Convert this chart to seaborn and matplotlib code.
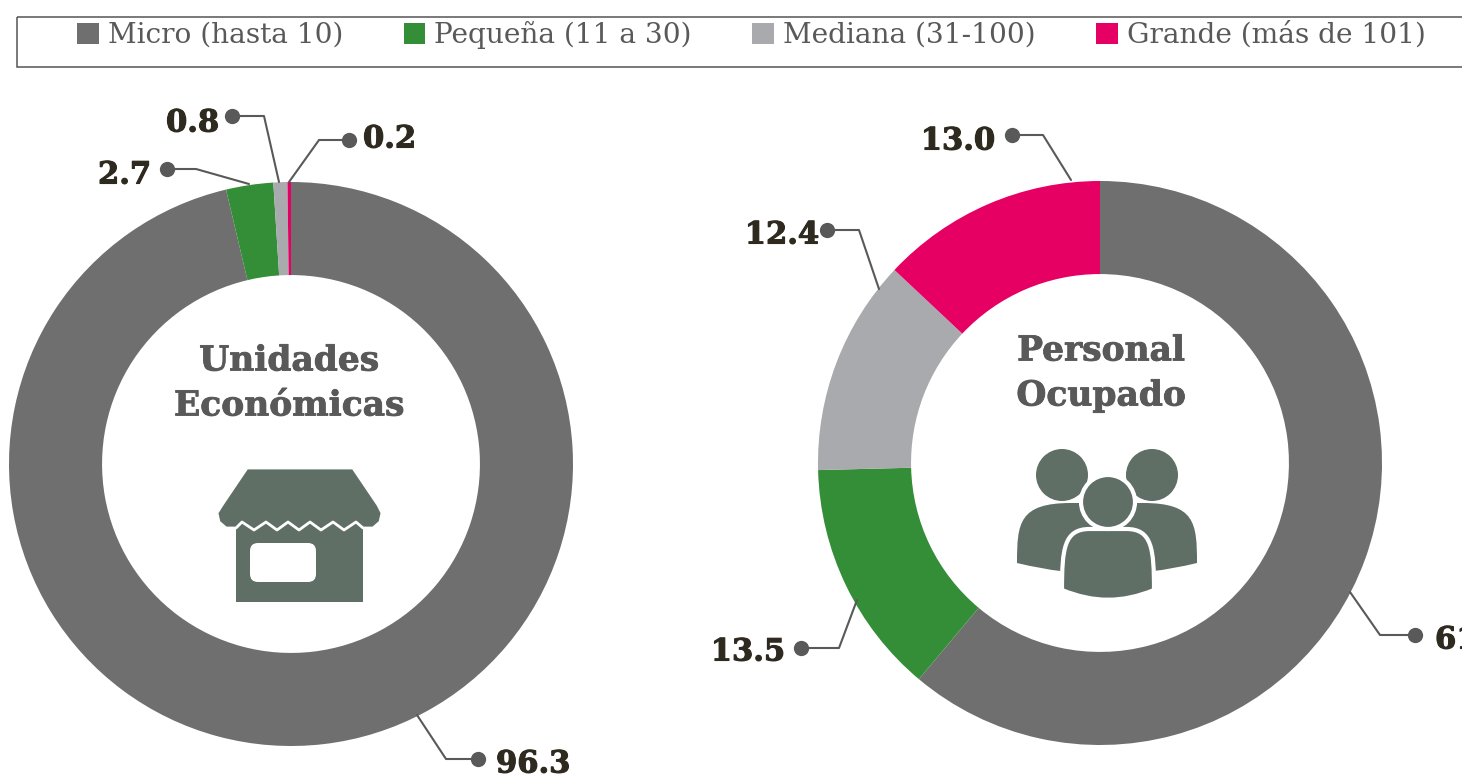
import matplotlib
matplotlib.use('Agg')
import matplotlib.pyplot as plt
import matplotlib.patheffects as pe
import seaborn as sns
from matplotlib.patches import Circle, PathPatch, Polygon, FancyBboxPatch, Rectangle
from matplotlib.path import Path

# datos
categorias = ['Micro (hasta 10)', 'Pequeña (11 a 30)', 'Mediana (31-100)', 'Grande (más de 101)']
unidades = [96.3, 2.7, 0.8, 0.2]
personal = [61.1, 13.5, 12.4, 13.0]
colores = ['#6f6f6f', '#348d37', '#a9aaad', '#e60064']

sns.set_theme(style='white')
plt.rcParams['font.family'] = ['DejaVu Serif']

W, H = 1462, 782
fig = plt.figure(figsize=(W / 100, H / 100), dpi=100)
palette = sns.color_palette(colores)


def eje_dona(cx, cy, r):
    ax = fig.add_axes([(cx - r) / W, 1 - (cy + r) / H, 2 * r / W, 2 * r / H])
    return ax


# donas
ax1 = eje_dona(291, 464, 282)
wedges, _ = ax1.pie(unidades, colors=palette, startangle=90, counterclock=False, radius=1,
                    wedgeprops={'width': 0.33, 'linewidth': 0})
ax1.set_xlim(-1, 1)
ax1.set_ylim(-1, 1)

ax2 = eje_dona(1100, 463, 282)
ax2.pie(personal, colors=palette, startangle=90, counterclock=False, radius=1,
        wedgeprops={'width': 0.33, 'linewidth': 0})
ax2.set_xlim(-1, 1)
ax2.set_ylim(-1, 1)

# capa en pixeles para textos e iconos
ov = fig.add_axes([0, 0, 1, 1], zorder=5)
ov.set_xlim(0, W)
ov.set_ylim(H, 0)
ov.axis('off')
ov.patch.set_alpha(0)

# leyenda
ov.add_patch(Rectangle((17, 17), 1500, 50, fill=False, edgecolor='#555555', linewidth=1.1))
leg = ov.legend(wedges, categorias, loc='center left', bbox_to_anchor=(77 / W, 1 - 35 / H),
                ncol=4, frameon=False, fontsize=20.2, handlelength=0.78, handleheight=0.78,
                handletextpad=0.32, columnspacing=2.15, labelcolor='#595959', borderpad=0, borderaxespad=0)

# lineas guia: punto, codo, extremo, inicio del texto, y del texto
guias = [
    (unidades[0], (478, 759), (446, 759), (417, 715), (496, 764), 'left'),
    (unidades[1], (167, 169), (196, 169), (249, 184), (151, 175), 'right'),
    (unidades[2], (232, 116), (264, 116), (279, 182), (219, 123), 'right'),
    (unidades[3], (349, 140), (319, 140), (289, 182), (363, 139), 'left'),
    (personal[0], (1415, 635), (1380, 635), (1350, 592), (1435, 640), 'left'),
    (personal[1], (801, 648), (839, 648), (857, 600), (785, 652), 'right'),
    (personal[2], (827, 230), (859, 230), (879, 289), (819, 235), 'right'),
    (personal[3], (1012, 135), (1043, 135), (1071, 180), (995, 141), 'right'),
]
grueso = [pe.withStroke(linewidth=0.8, foreground='#2e2a1f')]
for valor, punto, codo, fin, pos, ha in guias:
    ov.plot([punto[0], codo[0], fin[0]], [punto[1], codo[1], fin[1]], color='#595959', lw=1.5)
    ov.plot(punto[0], punto[1], 'o', color='#595959', ms=11, mew=0)
    ov.text(pos[0], pos[1], f'{valor:.1f}', ha=ha, va='center', fontsize=22, fontweight='bold',
            color='#2e2a1f', path_effects=grueso)

# titulos centrales
for x, y, t in [(289, 361, 'Unidades'), (289, 406, 'Económicas'), (1101, 351, 'Personal'), (1101, 396, 'Ocupado')]:
    ov.text(x, y, t, ha='center', va='center', fontsize=24.8, fontweight='bold', color='#595959',
            path_effects=[pe.withStroke(linewidth=0.6, foreground='#595959')])

icono = '#5f6f66'

# icono tienda
ov.add_patch(Rectangle((236, 515), 127, 87, color=icono, lw=0))
ov.add_patch(FancyBboxPatch((256, 549), 54, 27, boxstyle='round,pad=6,rounding_size=8', color='white', lw=0))
toldo = [(247, 468), (353, 468), (378, 505), (382, 513), (380, 522), (373, 528), (363, 528), (356, 522),
         (344, 530), (333, 522), (321, 530), (310, 522), (299, 530), (288, 522), (277, 530), (266, 522),
         (254, 530), (242, 522), (236, 528), (226, 528), (219, 522), (217, 513), (222, 505)]
ov.add_patch(Polygon(toldo, closed=True, facecolor=icono, edgecolor='white', lw=2, joinstyle='round'))


def cuerpo(x0, x1, ytop, ybot, ybot2):
    # hombros redondeados con base curva
    w = x1 - x0
    verts = [(x0, ybot), (x0, ytop + 20), (x0 + 2, ytop), (x0 + w * 0.3, ytop),
             (x1 - w * 0.3, ytop), (x1 - 2, ytop), (x1, ytop + 20), (x1, ybot),
             (x0 + w * 0.65, ybot2), (x0 + w * 0.35, ybot2), (x0, ybot), (x0, ybot)]
    codes = [Path.MOVETO, Path.CURVE4, Path.CURVE4, Path.CURVE4, Path.LINETO, Path.CURVE4, Path.CURVE4, Path.CURVE4,
             Path.CURVE4, Path.CURVE4, Path.CURVE4, Path.CLOSEPOLY]
    return Path(verts, codes)


# icono personas
ov.add_patch(Circle((1062, 475), 26, color=icono, lw=0))
ov.add_patch(Circle((1152, 475), 26, color=icono, lw=0))
ov.add_patch(PathPatch(cuerpo(1017, 1197, 503, 563, 578), facecolor=icono, lw=0))
ov.add_patch(PathPatch(cuerpo(1062, 1154, 529, 590, 603), facecolor=icono, edgecolor='white', lw=3))
ov.add_patch(Circle((1108, 502), 27, facecolor=icono, edgecolor='white', lw=3))

fig.savefig('out.png', dpi=100)
